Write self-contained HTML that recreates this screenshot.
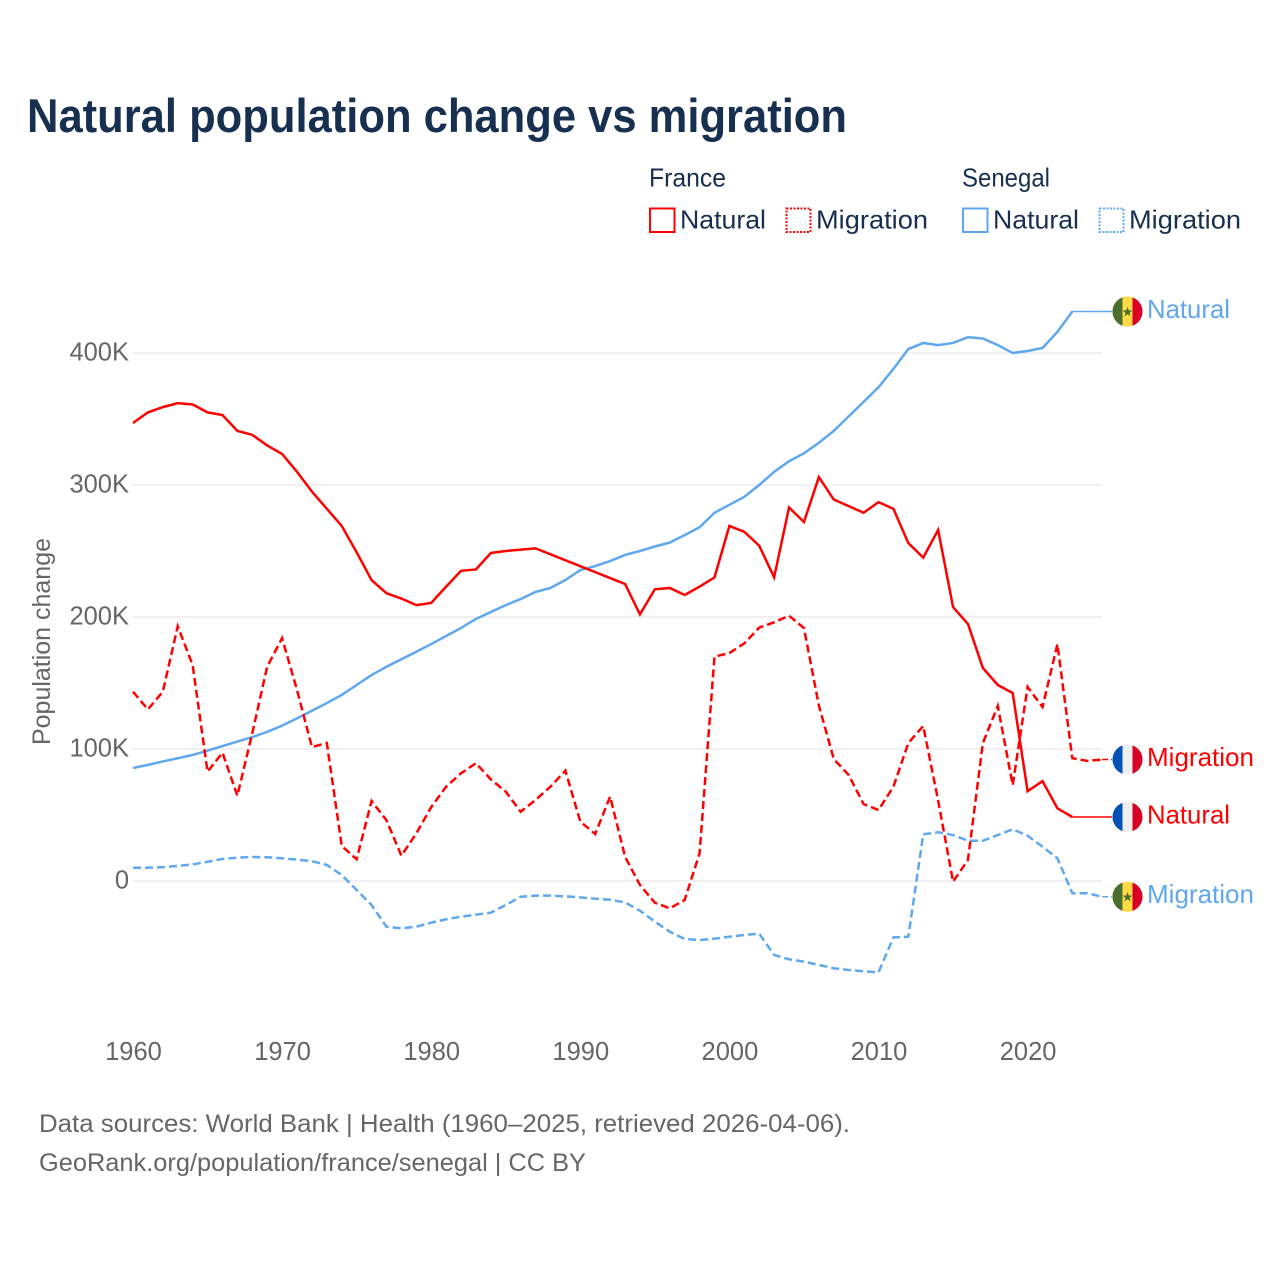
<!DOCTYPE html>
<html lang="en">
<head>
<meta charset="utf-8">
<title>Natural population change vs migration</title>
<style>
html,body{margin:0;padding:0;background:#fff;}
svg{display:block;}
text{font-family:"Liberation Sans",sans-serif;}
</style>
</head>
<body>
<svg id="chart" xmlns="http://www.w3.org/2000/svg" width="1280" height="1280" viewBox="0 0 1280 1280">
  <rect x="0" y="0" width="1280" height="1280" fill="#ffffff"/>
  <text x="27" y="132" font-size="47" font-weight="700" fill="#18304f" textLength="820" lengthAdjust="spacingAndGlyphs">Natural population change vs migration</text>

  <g>
    <text x="649" y="186.5" font-size="26" fill="#18304f" textLength="77" lengthAdjust="spacingAndGlyphs">France</text>
    <text x="962" y="186.5" font-size="26" fill="#18304f" textLength="88" lengthAdjust="spacingAndGlyphs">Senegal</text>
    <g>
      <rect x="650" y="208.5" width="24.5" height="23.5" fill="none" stroke="#ff0000" stroke-width="2"/>
      <text x="680" y="228.5" font-size="26" fill="#18304f" textLength="86" lengthAdjust="spacingAndGlyphs">Natural</text>
    </g>
    <g>
      <rect x="786.5" y="208.5" width="24" height="23.5" fill="none" stroke="#ff0000" stroke-width="2" stroke-dasharray="2 1.5"/>
      <text x="816" y="228.5" font-size="26" fill="#18304f" textLength="112" lengthAdjust="spacingAndGlyphs">Migration</text>
    </g>
    <g>
      <rect x="963" y="208.5" width="24.5" height="23.5" fill="none" stroke="#5fa8ef" stroke-width="2"/>
      <text x="993" y="228.5" font-size="26" fill="#18304f" textLength="86" lengthAdjust="spacingAndGlyphs">Natural</text>
    </g>
    <g>
      <rect x="1099.5" y="208.5" width="24" height="23.5" fill="none" stroke="#5fa8ef" stroke-width="2" stroke-dasharray="2 1.5"/>
      <text x="1129" y="228.5" font-size="26" fill="#18304f" textLength="112" lengthAdjust="spacingAndGlyphs">Migration</text>
    </g>
  </g>

  <text transform="translate(50 641.5) rotate(-90)" text-anchor="middle" font-size="25" fill="#666666" textLength="207" lengthAdjust="spacingAndGlyphs">Population change</text>

  <g id="grid"></g>
  <g id="yticks"></g>
  <g id="xticks"></g>
  <g id="series"></g>
  <g id="ends"></g>

  <text x="39" y="1132" font-size="25" fill="#666666" textLength="811" lengthAdjust="spacingAndGlyphs">Data sources: World Bank | Health (1960–2025, retrieved 2026-04-06).</text>
  <text x="39" y="1171" font-size="25" fill="#666666" textLength="547" lengthAdjust="spacingAndGlyphs">GeoRank.org/population/france/senegal | CC BY</text>
</svg>

<script>
const startYear = 1960;
const xTickYears = [1960, 1970, 1980, 1990, 2000, 2010, 2020];
const yTickValues = [0, 100, 200, 300, 400];
const yTickLabels = ['0', '100K', '200K', '300K', '400K'];

// Values in thousands, one per year starting at 1960
const franceNatural = [347,355,359,362,361,355,353,341,338,330,323.5,310,295,282,269,249,228,218,214,209,210.6,223,235,236,248.5,250,251,252,247.5,243,238.5,234,229.5,225,202,221,222,216.7,223,230,269,264.5,254,230,283,272,306,289,284,279,287,282,256,245,266,207.5,194.7,161.4,148.5,142.4,68,75.7,55,48.5];
const franceMigration = [143.4,130,143.4,193,163.6,82.8,97.2,64.6,112,162.4,184,144.7,101.5,104.5,26.5,16.5,60.6,46,19.2,36,56,71.4,81.6,89.2,77,67.7,52.5,61.4,71.5,83.6,45,35.6,64,18.4,-3,-16.4,-20.7,-14.4,21,170,172.7,180,192,196,201,191.6,133,92.4,80.3,58.3,53.8,71.4,104.5,117.4,61,-0.5,16,104.5,132.6,72.7,147,131.8,179.5,93,91,92];
const senegalNatural = [85.6,88,90.6,93,95.5,98.7,102.2,105.6,109,113,117.7,123.2,129,134.8,141,148.5,156,162.3,168,173.7,179.5,185.6,191.7,198.5,203.8,209,213.6,219,222,228,235.6,238.6,242.4,247,250,253.4,256.4,262,268,279,285,291,300,310,318,324,332,341,352,363,374,388,403,407.6,406,407.6,412,411,406,400,401.5,403.8,416,431.4];
const senegalMigration = [10,10.1,10.5,11.4,12.6,14.6,16.7,17.7,18.2,18,17.2,16.2,15,12.2,4.5,-6.8,-18.2,-34.6,-35.9,-34.6,-31.6,-29,-27,-25.5,-24,-18.2,-11.9,-11.1,-11.1,-11.6,-12.4,-13.4,-14.2,-16.2,-22.5,-30.8,-38.4,-44,-44.7,-43.7,-42.2,-40.9,-39.9,-56,-59.3,-61.1,-63.6,-66.1,-67.4,-68.4,-69.2,-42.7,-42.2,35.4,36.9,34.8,30.5,30.5,34.8,39.2,34.3,26,17.2,-9.3,-9.3,-11.9];

const NS = 'http://www.w3.org/2000/svg';
const RED = '#ff0000';
const BLUE = '#5fa8ef';
const GRID_LEFT = 133;
const GRID_RIGHT = 1102.5;
const END_X = 1112;
const FLAG_X = 1127.5;

function xScale(year) { return 133 + (year - 1960) * 14.91; }
function yScale(v) { return 881 - v * 1.32; }
function make(tag, attrs, parent) {
  const el = document.createElementNS(NS, tag);
  for (const k in attrs) el.setAttribute(k, attrs[k]);
  parent.appendChild(el);
  return el;
}

const gridG = document.getElementById('grid');
const yG = document.getElementById('yticks');
const xG = document.getElementById('xticks');
const seriesG = document.getElementById('series');
const endsG = document.getElementById('ends');

yTickValues.forEach(function (v, i) {
  const y = yScale(v);
  const line = make('line', {x1: GRID_LEFT, x2: GRID_RIGHT, y1: y, y2: y, stroke: '#ececec', 'stroke-width': 1.5}, gridG);
  
  
  const t = make('text', {x: 129, y: y + 7.5, 'text-anchor': 'end', 'font-size': 25.5, fill: '#666666'}, yG);
  t.textContent = yTickLabels[i];
  
  
});

xTickYears.forEach(function (yr) {
  const t = make('text', {x: xScale(yr) + 0.5, y: 1060, 'text-anchor': 'middle', 'font-size': 25.5, fill: '#666666'}, xG);
  t.textContent = String(yr);
  
  
});

function drawSeries(values, color, dashed, name) {
  const pts = values.map(function (v, i) { return xScale(startYear + i).toFixed(2) + ',' + yScale(v).toFixed(2); });
  const attrs = {points: pts.join(' '), fill: 'none', stroke: color, 'stroke-width': 2.5, 'stroke-linejoin': 'miter', 'stroke-miterlimit': 6};
  if (dashed) attrs['stroke-dasharray'] = '8 4';
  const line = make('polyline', attrs, seriesG);
  
  
}

function drawFrance(cx, cy, parent, id) {
  const g = make('g', {}, parent);
  
  
  make('circle', {cx: cx, cy: cy, r: 15, fill: '#eeeeee'}, g);
  make('path', {d: 'M' + (cx - 5) + ' ' + (cy - 14.14) + 'A15 15 0 0 0 ' + (cx - 5) + ' ' + (cy + 14.14) + 'Z', fill: '#0052b4'}, g);
  make('path', {d: 'M' + (cx + 5) + ' ' + (cy - 14.14) + 'A15 15 0 0 1 ' + (cx + 5) + ' ' + (cy + 14.14) + 'Z', fill: '#d80027'}, g);
}

function drawSenegal(cx, cy, parent, id) {
  const g = make('g', {}, parent);
  
  
  make('circle', {cx: cx, cy: cy, r: 15, fill: '#ffda44'}, g);
  make('path', {d: 'M' + (cx - 5) + ' ' + (cy - 14.14) + 'A15 15 0 0 0 ' + (cx - 5) + ' ' + (cy + 14.14) + 'Z', fill: '#496e2d'}, g);
  make('path', {d: 'M' + (cx + 5) + ' ' + (cy - 14.14) + 'A15 15 0 0 1 ' + (cx + 5) + ' ' + (cy + 14.14) + 'Z', fill: '#d80027'}, g);
  const star = [];
  for (let i = 0; i < 10; i++) {
    const r = i % 2 === 0 ? 5.2 : 2.1;
    const a = -Math.PI / 2 + i * Math.PI / 5;
    star.push((cx + r * Math.cos(a)).toFixed(2) + ',' + (cy + 0.5 + r * Math.sin(a)).toFixed(2));
  }
  make('polygon', {points: star.join(' '), fill: '#496e2d'}, g);
}

function drawEnd(values, color, dashed, name, label, textLen, flag) {
  const lastYear = startYear + values.length - 1;
  const lastV = values[values.length - 1];
  const y = yScale(lastV);
  const attrs = {x1: xScale(lastYear), x2: END_X, y1: y, y2: y, stroke: color, 'stroke-width': 1.5};
  if (dashed) attrs['stroke-dasharray'] = '6 3';
  const conn = make('line', attrs, endsG);
  
  
  flag(FLAG_X, y, endsG, name);
  const t = make('text', {x: 1147, y: y + 6.5, 'font-size': 26, fill: color, textLength: textLen, lengthAdjust: 'spacingAndGlyphs'}, endsG);
  t.textContent = label;
  
  
}

drawSeries(senegalMigration, BLUE, true, 'senegal-migration');
drawSeries(senegalNatural, BLUE, false, 'senegal-natural');
drawSeries(franceMigration, RED, true, 'france-migration');
drawSeries(franceNatural, RED, false, 'france-natural');

drawEnd(senegalNatural, BLUE, false, 'senegal-natural', 'Natural', 83, drawSenegal);
drawEnd(franceMigration, RED, true, 'france-migration', 'Migration', 107, drawFrance);
drawEnd(franceNatural, RED, false, 'france-natural', 'Natural', 83, drawFrance);
drawEnd(senegalMigration, BLUE, true, 'senegal-migration', 'Migration', 107, drawSenegal);
</script>
</body>
</html>
